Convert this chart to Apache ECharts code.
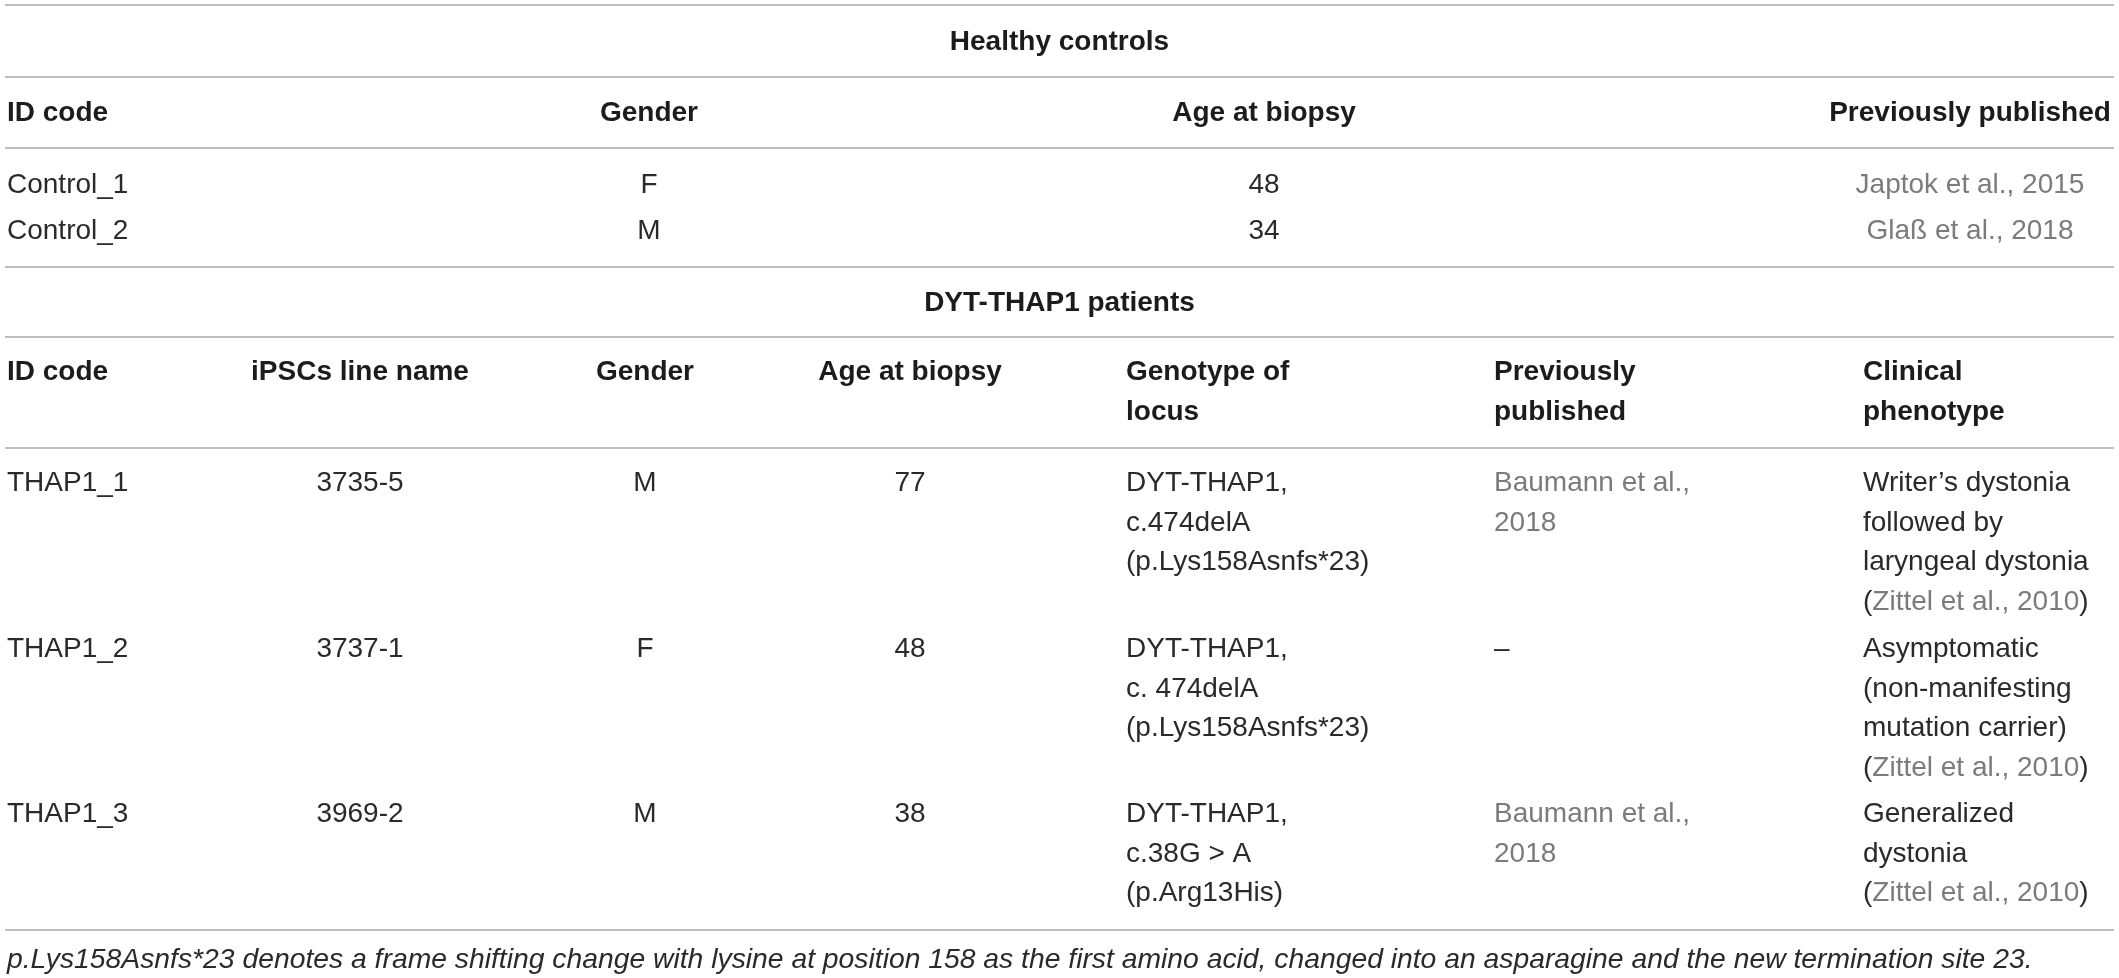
<!DOCTYPE html>
<html>
<head>
<meta charset="utf-8">
<title>Healthy controls and DYT-THAP1 patients</title>
<script src="https://cdn.jsdelivr.net/npm/echarts@6/dist/echarts.min.js"></script>
<style>
    html, body { margin: 0; padding: 0; background: #fff; }
    #table { width: 2119px; height: 978px; }
</style>
</head>
<body>
<div id="table"></div>
<script>
// ---- table content ----
var controlTitle = 'Healthy controls';
var controlHeader = ['ID code', 'Gender', 'Age at biopsy', 'Previously published'];
var controlIds = ['Control_1', 'Control_2'];
var controlGender = ['F', 'M'];
var controlAge = [48, 34];
var controlPublished = ['Japtok et al., 2015', 'Glaß et al., 2018'];

var patientTitle = 'DYT-THAP1 patients';
var patientHeader = ['ID code', 'iPSCs line name', 'Gender', 'Age at biopsy',
    'Genotype of\nlocus', 'Previously\npublished', 'Clinical\nphenotype'];
var patientIds = ['THAP1_1', 'THAP1_2', 'THAP1_3'];
var patientLines = ['3735-5', '3737-1', '3969-2'];
var patientGender = ['M', 'F', 'M'];
var patientAge = [77, 48, 38];
var patientGenotype = [
    'DYT-THAP1,\nc.474delA\n(p.Lys158Asnfs*23)',
    'DYT-THAP1,\nc. 474delA\n(p.Lys158Asnfs*23)',
    'DYT-THAP1,\nc.38G > A\n(p.Arg13His)'
];
var patientPublished = ['Baumann et al.,\n2018', '–', 'Baumann et al.,\n2018'];
var patientPhenotype = [
    'Writer\u2019s dystonia\nfollowed by\nlaryngeal dystonia',
    'Asymptomatic\n(non-manifesting\nmutation carrier)',
    'Generalized\ndystonia'
];
var patientPhenotypeRef = ['Zittel et al., 2010', 'Zittel et al., 2010', 'Zittel et al., 2010'];

var footnote = 'p.Lys158Asnfs*23 denotes a frame shifting change with lysine at position 158 as the first amino acid, changed into an asparagine and the new termination site 23.';

// ---- layout ----
var FONT = '"Liberation Sans", Arial, sans-serif';
var SIZE = 28;
var LH = 39.5;
var HEAD = '#1c1c1c';
var BODY = '#2a2a2a';
var REF = '#7b7b7b';
var RULE = '#a8a8a8';
var tableLeft = 5, tableRight = 2114;
var tableMid = (tableLeft + tableRight) / 2;
var rules = [5, 77, 148, 267, 337, 448, 930];

var controlCols = [
    { x: 7, align: 'left' }, { x: 649, align: 'center' },
    { x: 1264, align: 'center' }, { x: 1970, align: 'center' }
];
var patientCols = [
    { x: 7, align: 'left' }, { x: 360, align: 'center' }, { x: 645, align: 'center' },
    { x: 910, align: 'center' }, { x: 1126, align: 'left' }, { x: 1494, align: 'left' },
    { x: 1863, align: 'left' }
];
var controlHeaderY = 113;
var controlRowY = [185, 231];
var patientHeaderTop = 353;
var patientRowTop = [464, 630, 795];

function font(weight, style, size) {
    return (style || 'normal') + ' ' + (weight || 'normal') + ' ' + (size || SIZE) + 'px ' + FONT;
}

function cell(col, y, text, opt) {
    opt = opt || {};
    var va = opt.top ? 'top' : 'middle';
    var st = {
        text: String(text),
        x: 0, y: 0,
        font: font(opt.weight, opt.style, opt.size),
        fill: opt.color || BODY,
        textAlign: col.align, align: col.align,
        textVerticalAlign: va, verticalAlign: va,
        lineHeight: LH
    };
    if (opt.rich) st.rich = opt.rich;
    return { type: 'text', x: col.x, y: y, silent: true, style: st };
}

var els = [];

rules.forEach(function (y) {
    els.push({
        type: 'line', silent: true,
        shape: { x1: tableLeft, y1: y, x2: tableRight, y2: y },
        style: { stroke: RULE, lineWidth: 1.6 }
    });
});

var midCol = { x: tableMid, align: 'center' };

// healthy controls block
els.push(cell(midCol, 42, controlTitle, { weight: 'bold', color: HEAD }));
controlHeader.forEach(function (h, i) {
    els.push(cell(controlCols[i], controlHeaderY, h, { weight: 'bold', color: HEAD }));
});
controlIds.forEach(function (id, r) {
    var y = controlRowY[r];
    els.push(cell(controlCols[0], y, id));
    els.push(cell(controlCols[1], y, controlGender[r]));
    els.push(cell(controlCols[2], y, controlAge[r]));
    els.push(cell(controlCols[3], y, controlPublished[r], { color: REF }));
});

// patients block
els.push(cell(midCol, 303, patientTitle, { weight: 'bold', color: HEAD }));
patientHeader.forEach(function (h, i) {
    els.push(cell(patientCols[i], patientHeaderTop, h, { weight: 'bold', color: HEAD, top: true }));
});
var richRef = {
    p: { fill: BODY, color: BODY, font: font(), lineHeight: LH },
    r: { fill: REF, color: REF, font: font(), lineHeight: LH }
};
patientIds.forEach(function (id, r) {
    var top = patientRowTop[r];
    els.push(cell(patientCols[0], top, id, { top: true }));
    els.push(cell(patientCols[1], top, patientLines[r], { top: true }));
    els.push(cell(patientCols[2], top, patientGender[r], { top: true }));
    els.push(cell(patientCols[3], top, patientAge[r], { top: true }));
    els.push(cell(patientCols[4], top, patientGenotype[r], { top: true }));
    var pub = patientPublished[r];
    els.push(cell(patientCols[5], top, pub, { top: true, color: pub === '–' ? BODY : REF }));
    els.push(cell(patientCols[6], top, patientPhenotype[r], { top: true }));
    var nLines = patientPhenotype[r].split('\n').length;
    els.push(cell(patientCols[6], top + nLines * LH,
        '{p|(}{r|' + patientPhenotypeRef[r] + '}{p|)}', { top: true, rich: richRef }));
});

// footnote
els.push(cell({ x: 7, align: 'left' }, 960, footnote, { style: 'italic', size: 28.3, color: BODY }));

var chart = echarts.init(document.getElementById('table'));
chart.setOption({
    backgroundColor: '#ffffff',
    animation: false,
    graphic: { elements: els }
});
</script>
</body>
</html>
